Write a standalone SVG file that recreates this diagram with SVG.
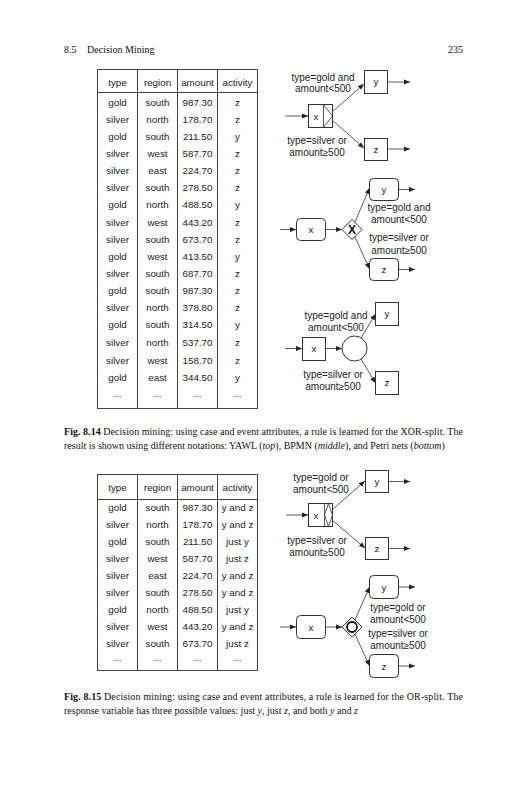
<svg xmlns="http://www.w3.org/2000/svg" width="527" height="800" viewBox="0 0 527 800">
<style>
.t{font-family:"Liberation Sans",Arial,sans-serif;font-size:9.8px;fill:#222;text-anchor:middle}
.l{font-family:"Liberation Sans",Arial,sans-serif;font-size:10px;fill:#222;text-anchor:middle}
.cap{font-family:"Liberation Serif","Times New Roman",serif;font-size:10px;fill:#111}
.hdr{font-family:"Liberation Serif","Times New Roman",serif;font-size:10px;fill:#111}
.grid{stroke:#444;stroke-width:1;fill:none}
.box{fill:#fff;stroke:#333;stroke-width:1}
.arc{stroke:#333;stroke-width:0.8;fill:none;marker-end:url(#ah)}
.b{font-weight:bold}
.i{font-style:italic}
</style>
<defs>
<marker id="ah" markerUnits="userSpaceOnUse" markerWidth="6" markerHeight="6" refX="6" refY="3" orient="auto">
<path d="M0,0.5 L6,3 L0,5.5 z" fill="#222"/>
</marker>
</defs>
<rect width="527" height="800" fill="#fff"/>

<g id="header">
<text class="hdr" x="64" y="53">8.5</text>
<text class="hdr" x="87" y="53">Decision Mining</text>
<text class="hdr" x="463" y="53" text-anchor="end">235</text>
</g>

<g id="table1">
<rect class="grid" x="97.5" y="69.5" width="160" height="339"/>
<path class="grid" d="M97.5,92.5 H257.5 M137.5,69.5 V408.5 M177.5,69.5 V408.5 M217.5,69.5 V408.5"/>
<g class="t">
<text x="117.5" y="85.5">type</text><text x="157.5" y="85.5">region</text><text x="197.5" y="85.5">amount</text><text x="237.5" y="85.5">activity</text>
<text x="117.5" y="105.5">gold</text><text x="157.5" y="105.5">south</text><text x="197.5" y="105.5">987.30</text><text x="237.5" y="105.5">z</text>
<text x="117.5" y="122.6">silver</text><text x="157.5" y="122.6">north</text><text x="197.5" y="122.6">178.70</text><text x="237.5" y="122.6">z</text>
<text x="117.5" y="139.8">gold</text><text x="157.5" y="139.8">south</text><text x="197.5" y="139.8">211.50</text><text x="237.5" y="139.8">y</text>
<text x="117.5" y="156.9">silver</text><text x="157.5" y="156.9">west</text><text x="197.5" y="156.9">587.70</text><text x="237.5" y="156.9">z</text>
<text x="117.5" y="174.1">silver</text><text x="157.5" y="174.1">east</text><text x="197.5" y="174.1">224.70</text><text x="237.5" y="174.1">z</text>
<text x="117.5" y="191.2">silver</text><text x="157.5" y="191.2">south</text><text x="197.5" y="191.2">278.50</text><text x="237.5" y="191.2">z</text>
<text x="117.5" y="208.4">gold</text><text x="157.5" y="208.4">north</text><text x="197.5" y="208.4">488.50</text><text x="237.5" y="208.4">y</text>
<text x="117.5" y="225.5">silver</text><text x="157.5" y="225.5">west</text><text x="197.5" y="225.5">443.20</text><text x="237.5" y="225.5">z</text>
<text x="117.5" y="242.7">silver</text><text x="157.5" y="242.7">south</text><text x="197.5" y="242.7">673.70</text><text x="237.5" y="242.7">z</text>
<text x="117.5" y="259.8">gold</text><text x="157.5" y="259.8">west</text><text x="197.5" y="259.8">413.50</text><text x="237.5" y="259.8">y</text>
<text x="117.5" y="277.0">silver</text><text x="157.5" y="277.0">south</text><text x="197.5" y="277.0">687.70</text><text x="237.5" y="277.0">z</text>
<text x="117.5" y="294.1">gold</text><text x="157.5" y="294.1">south</text><text x="197.5" y="294.1">987.30</text><text x="237.5" y="294.1">z</text>
<text x="117.5" y="311.3">silver</text><text x="157.5" y="311.3">north</text><text x="197.5" y="311.3">378.80</text><text x="237.5" y="311.3">z</text>
<text x="117.5" y="328.4">gold</text><text x="157.5" y="328.4">south</text><text x="197.5" y="328.4">314.50</text><text x="237.5" y="328.4">y</text>
<text x="117.5" y="345.6">silver</text><text x="157.5" y="345.6">north</text><text x="197.5" y="345.6">537.70</text><text x="237.5" y="345.6">z</text>
<text x="117.5" y="363.5">silver</text><text x="157.5" y="363.5">west</text><text x="197.5" y="363.5">158.70</text><text x="237.5" y="363.5">z</text>
<text x="117.5" y="380.5">gold</text><text x="157.5" y="380.5">east</text><text x="197.5" y="380.5">344.50</text><text x="237.5" y="380.5">y</text>
<text x="117.5" y="396.5">...</text><text x="157.5" y="396.5">...</text><text x="197.5" y="396.5">...</text><text x="237.5" y="396.5">...</text>
</g>
</g>

<!-- Fig 8.14 YAWL -->
<g id="yawl1-x">
<rect class="box" x="308.5" y="104.5" width="24" height="23"/>
<path d="M323.5,104.5 V127.5 M323.5,104.5 L332.5,116 L323.5,127.5" stroke="#333" stroke-width="0.8" fill="none"/>
<text class="t" x="316" y="119.5">x</text>
</g>
<g id="yawl1-y">
<rect class="box" x="364.5" y="70.5" width="23" height="23"/>
<text class="t" x="376" y="85">y</text>
</g>
<g id="yawl1-z">
<rect class="box" x="364.5" y="138.5" width="23" height="22"/>
<text class="t" x="376" y="152.5">z</text>
</g>
<g id="yawl1-labels" class="l">
<text x="323" y="81">type=gold and</text>
<text x="323" y="92">amount&lt;500</text>
<text x="317" y="144">type=silver or</text>
<text x="317" y="156">amount≥500</text>
</g>

<!-- Fig 8.14 BPMN -->
<g id="bpmn1-x">
<rect class="box" x="296.5" y="218.5" width="29" height="22" rx="4"/>
<text class="t" x="311" y="233">x</text>
</g>
<g id="bpmn1-gw">
<path class="box" d="M352,219.5 L362,229.5 L352,239.5 L342,229.5 z"/>
<text x="352" y="234" text-anchor="middle" font-family="Liberation Sans,Arial,sans-serif" font-size="12" font-weight="bold" fill="#111">X</text>
</g>
<g id="bpmn1-y">
<rect class="box" x="369.5" y="178.5" width="29" height="22" rx="4"/>
<text class="t" x="384" y="193">y</text>
</g>
<g id="bpmn1-z">
<rect class="box" x="369.5" y="258.5" width="29" height="22" rx="4"/>
<text class="t" x="384" y="273">z</text>
</g>
<g id="bpmn1-labels" class="l">
<text x="399" y="211">type=gold and</text>
<text x="399" y="223">amount&lt;500</text>
<text x="399" y="241">type=silver or</text>
<text x="399" y="254">amount≥500</text>
</g>

<!-- Fig 8.14 Petri -->
<g id="pn-x">
<rect class="box" x="302.5" y="337.5" width="23" height="23"/>
<text class="t" x="314" y="352">x</text>
</g>
<g id="pn-p">
<circle class="box" cx="354.5" cy="348.5" r="12.5"/>
</g>
<g id="pn-y">
<rect class="box" x="375.5" y="302.5" width="23" height="23"/>
<text class="t" x="387" y="317">y</text>
</g>
<g id="pn-z">
<rect class="box" x="375.5" y="371.5" width="23" height="23"/>
<text class="t" x="387" y="386">z</text>
</g>
<g id="pn-labels" class="l">
<text x="336" y="319">type=gold and</text>
<text x="336" y="331">amount&lt;500</text>
<text x="333" y="378">type=silver or</text>
<text x="333" y="390">amount≥500</text>
</g>

<g id="caption1" class="cap">
<text x="64" y="435" textLength="399" lengthAdjust="spacing"><tspan class="b">Fig. 8.14</tspan>  Decision mining: using case and event attributes, a rule is learned for the XOR-split. The</text>
<text x="64" y="449">result is shown using different notations: YAWL (<tspan class="i">top</tspan>), BPMN (<tspan class="i">middle</tspan>), and Petri nets (<tspan class="i">bottom</tspan>)</text>
</g>

<g id="table2">
<rect class="grid" x="97.5" y="474.5" width="160" height="196"/>
<path class="grid" d="M97.5,499.5 H257.5 M137.5,474.5 V670.5 M177.5,474.5 V670.5 M217.5,474.5 V670.5"/>
<g class="t">
<text x="117.5" y="490.5">type</text><text x="157.5" y="490.5">region</text><text x="197.5" y="490.5">amount</text><text x="237.5" y="490.5">activity</text>
<text x="117.5" y="511">gold</text><text x="157.5" y="511">south</text><text x="197.5" y="511">987.30</text><text x="237.5" y="511">y and z</text>
<text x="117.5" y="528">silver</text><text x="157.5" y="528">north</text><text x="197.5" y="528">178.70</text><text x="237.5" y="528">y and z</text>
<text x="117.5" y="545">gold</text><text x="157.5" y="545">south</text><text x="197.5" y="545">211.50</text><text x="237.5" y="545">just y</text>
<text x="117.5" y="562">silver</text><text x="157.5" y="562">west</text><text x="197.5" y="562">587.70</text><text x="237.5" y="562">just z</text>
<text x="117.5" y="579">silver</text><text x="157.5" y="579">east</text><text x="197.5" y="579">224.70</text><text x="237.5" y="579">y and z</text>
<text x="117.5" y="596">silver</text><text x="157.5" y="596">south</text><text x="197.5" y="596">278.50</text><text x="237.5" y="596">y and z</text>
<text x="117.5" y="613">gold</text><text x="157.5" y="613">north</text><text x="197.5" y="613">488.50</text><text x="237.5" y="613">just y</text>
<text x="117.5" y="630">silver</text><text x="157.5" y="630">west</text><text x="197.5" y="630">443.20</text><text x="237.5" y="630">y and z</text>
<text x="117.5" y="647">silver</text><text x="157.5" y="647">south</text><text x="197.5" y="647">673.70</text><text x="237.5" y="647">just z</text>
<text x="117.5" y="661">...</text><text x="157.5" y="661">...</text><text x="197.5" y="661">...</text><text x="237.5" y="661">...</text>
</g>
</g>

<!-- Fig 8.15 YAWL -->
<g id="yawl2-x">
<rect class="box" x="308.5" y="503.5" width="24" height="23"/>
<path d="M324.5,503.5 V526.5 M328.5,503.5 L324.5,515 L328.5,526.5 L332.5,515 z" stroke="#333" stroke-width="0.8" fill="none"/>
<text class="t" x="316" y="518.5">x</text>
</g>
<g id="yawl2-y">
<rect class="box" x="365.5" y="470.5" width="23" height="22"/>
<text class="t" x="377" y="484.5">y</text>
</g>
<g id="yawl2-z">
<rect class="box" x="365.5" y="537.5" width="23" height="22"/>
<text class="t" x="377" y="551.5">z</text>
</g>
<g id="yawl2-labels" class="l">
<text x="321" y="481">type=gold or</text>
<text x="321" y="493">amount&lt;500</text>
<text x="317" y="544">type=silver or</text>
<text x="317" y="556">amount≥500</text>
</g>

<!-- Fig 8.15 BPMN -->
<g id="bpmn2-x">
<rect class="box" x="296.5" y="615.5" width="29" height="23" rx="4"/>
<text class="t" x="311" y="630.5">x</text>
</g>
<g id="bpmn2-gw">
<path class="box" d="M352,617 L362,627 L352,637 L342,627 z"/>
<circle cx="352" cy="627" r="5" fill="none" stroke="#111" stroke-width="1.8"/>
</g>
<g id="bpmn2-y">
<rect class="box" x="369.5" y="575.5" width="29" height="23" rx="4"/>
<text class="t" x="384" y="590.5">y</text>
</g>
<g id="bpmn2-z">
<rect class="box" x="369.5" y="654.5" width="29" height="23" rx="4"/>
<text class="t" x="384" y="669.5">z</text>
</g>
<g id="bpmn2-labels" class="l">
<text x="398" y="611">type=gold or</text>
<text x="398" y="623">amount&lt;500</text>
<text x="398" y="637">type=silver or</text>
<text x="398" y="649">amount≥500</text>
</g>

<g id="caption2" class="cap">
<text x="64" y="700" textLength="399" lengthAdjust="spacing"><tspan class="b">Fig. 8.15</tspan>  Decision mining: using case and event attributes, a rule is learned for the OR-split. The</text>
<text x="64" y="714">response variable has three possible values: just <tspan class="i">y</tspan>, just <tspan class="i">z</tspan>, and both <tspan class="i">y</tspan> and <tspan class="i">z</tspan></text>
</g>

<g id="connectors">
<!-- yawl1 -->
<path class="arc" d="M285,116 H308"/>
<path class="arc" d="M332,112 L364,84"/>
<path class="arc" d="M332,120 L364,148"/>
<path class="arc" d="M388,82 H410"/>
<path class="arc" d="M388,149 H410"/>
<!-- bpmn1 -->
<path class="arc" d="M280,229.5 H296"/>
<path class="arc" d="M326,229.5 H342"/>
<path class="arc" d="M355,222 L369.5,188"/>
<path class="arc" d="M355,237 L369.5,269"/>
<path class="arc" d="M399,189.5 H415"/>
<path class="arc" d="M399,269.5 H415"/>
<!-- petri -->
<path class="arc" d="M285,348.5 H302"/>
<path class="arc" d="M326,348.5 H342"/>
<path class="arc" d="M361,338 L375.5,314"/>
<path class="arc" d="M361,359 L375.5,383"/>
<!-- yawl2 -->
<path class="arc" d="M286,515 H308"/>
<path class="arc" d="M332,510 L365,481"/>
<path class="arc" d="M332,520 L365,548"/>
<path class="arc" d="M389,481.5 H410"/>
<path class="arc" d="M389,548.5 H410"/>
<!-- bpmn2 -->
<path class="arc" d="M280,627 H296"/>
<path class="arc" d="M326,627 H342"/>
<path class="arc" d="M355,620 L369.5,587"/>
<path class="arc" d="M355,634 L369.5,666"/>
<path class="arc" d="M399,587 H415"/>
<path class="arc" d="M399,666 H415"/>
</g>
</svg>
